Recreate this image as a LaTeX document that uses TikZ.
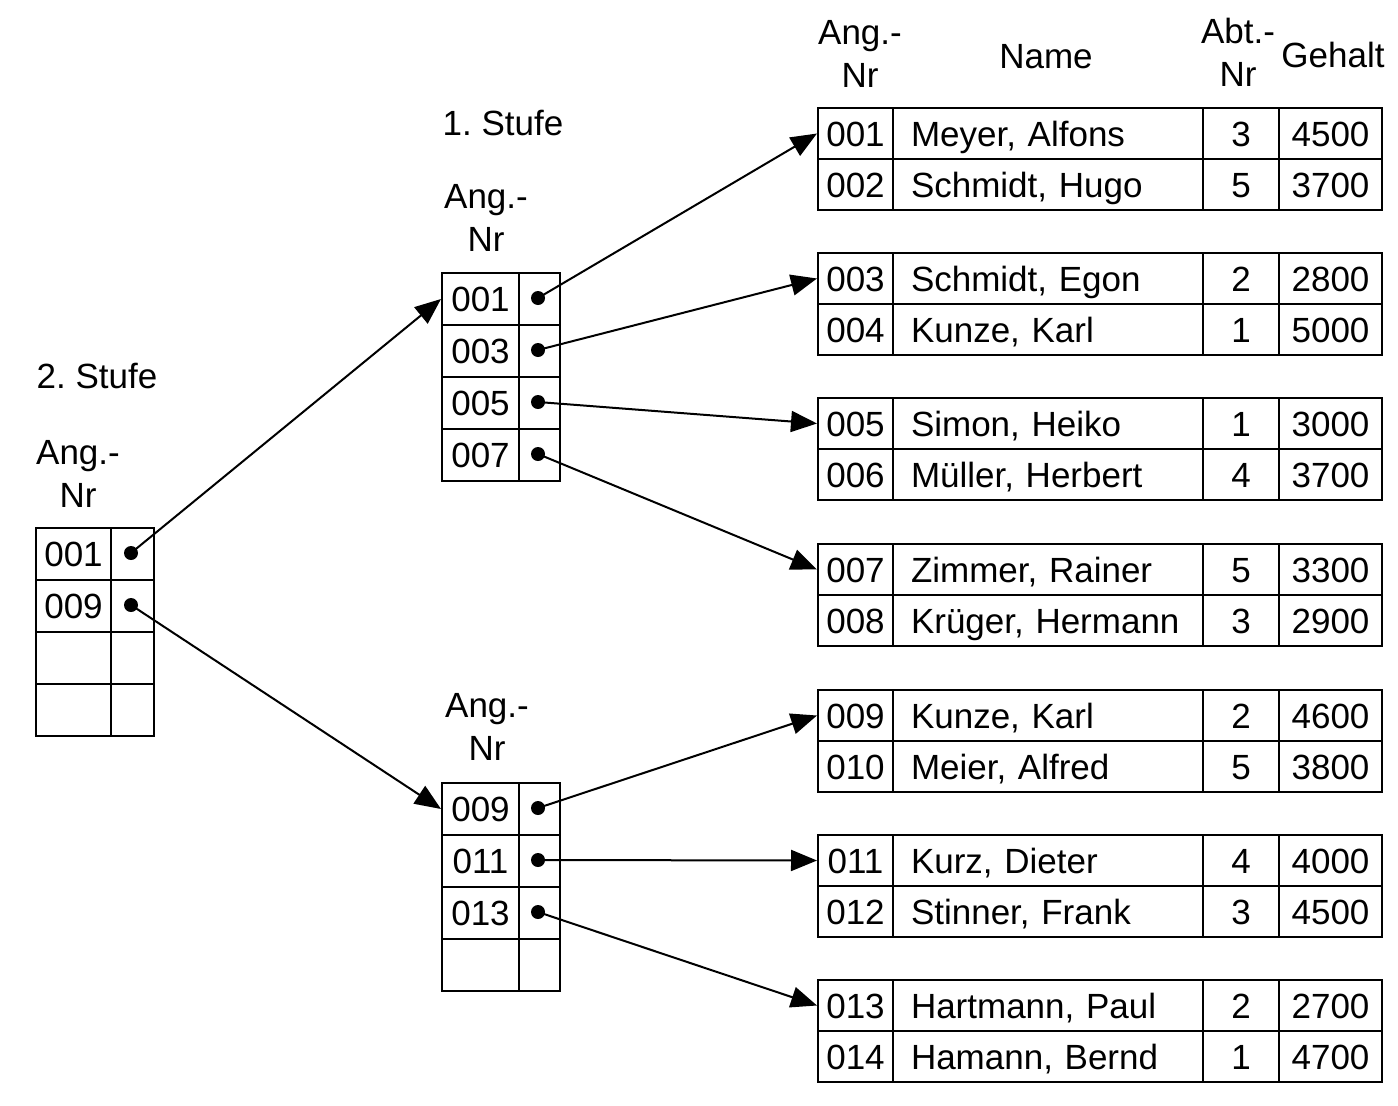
\documentclass[tikz,border=0pt]{standalone}
\usepackage{fontspec}
\setmainfont{Liberation Sans}
\usetikzlibrary{arrows.meta}
\frenchspacing
\tikzset{
  cell/.style={draw, line width=2pt, inner sep=0pt, anchor=north west, minimum height=51pt, text height=25pt, text depth=0pt},
  icell/.style={draw, line width=2pt, inner sep=0pt, anchor=north west, minimum height=52pt, text height=25pt, text depth=0pt},
  lbl/.style={inner sep=0pt, align=center},
  ptr/.style={circle, fill=black, inner sep=0pt, minimum size=14pt},
  link/.style={line width=2pt, -{Triangle[length=26pt,width=21pt]}}
}
\newcommand\drow[6]{%
  \node[cell, minimum width=75pt] (#1id) at (817,#2) {#3};
  \node[cell, minimum width=310pt, text width=274pt, align=left] (#1nm) at (892,#2) {#4};
  \node[cell, minimum width=76pt] (#1ab) at (1202,#2) {#5};
  \node[cell, minimum width=103pt] (#1ge) at (1278,#2) {#6};
}
\begin{document}
\begin{tikzpicture}[x=1pt,y=-1pt,font=\fontsize{35}{43}\selectfont]
\useasboundingbox[fill=white] (0,0) rectangle (1398,1106);

% headers
\node[lbl] (hang) at (860,54) {Ang.-\\Nr};
\node[lbl] (hname) at (1046,57) {Name};
\node[lbl] (habt) at (1238,52) {Abt.-\\Nr};
\node[lbl] (hgeh) at (1333,55) {Gehalt};

\node[lbl] (st1) at (503,123) {1. Stufe};
\node[lbl] (ang1) at (486,218) {Ang.-\\Nr};
\node[lbl] (ang1b) at (487,727) {Ang.-\\Nr};
\node[lbl] (st2) at (97,376) {2. Stufe};
\node[lbl] (ang2) at (78,474) {Ang.-\\Nr};

% data tables
\drow{ta}{107}{001}{Meyer, Alfons}{3}{4500}
\drow{tb}{158}{002}{Schmidt, Hugo}{5}{3700}
\drow{tc}{252}{003}{Schmidt, Egon}{2}{2800}
\drow{td}{303}{004}{Kunze, Karl}{1}{5000}
\drow{te}{397}{005}{Simon, Heiko}{1}{3000}
\drow{tf}{448}{006}{Müller, Herbert}{4}{3700}
\drow{tg}{543}{007}{Zimmer, Rainer}{5}{3300}
\drow{th}{594}{008}{Krüger, Hermann}{3}{2900}
\drow{ti}{689}{009}{Kunze, Karl}{2}{4600}
\drow{tj}{740}{010}{Meier, Alfred}{5}{3800}
\drow{tk}{834}{011}{Kurz, Dieter}{4}{4000}
\drow{tl}{885}{012}{Stinner, Frank}{3}{4500}
\drow{tm}{979}{013}{Hartmann, Paul}{2}{2700}
\drow{tn}{1030}{014}{Hamann, Bernd}{1}{4700}

% level 2 index (left)
\node[icell, minimum width=75pt] (la) at (35,527) {001};
\node[icell, minimum width=43pt] (lap) at (110,527) {};
\node[icell, minimum width=75pt] (lb) at (35,579) {009};
\node[icell, minimum width=43pt] (lbp) at (110,579) {};
\node[icell, minimum width=75pt] (lc) at (35,631) {};
\node[icell, minimum width=43pt] (lcp) at (110,631) {};
\node[icell, minimum width=75pt] (ld) at (35,683) {};
\node[icell, minimum width=43pt] (ldp) at (110,683) {};
\node[ptr] (dla) at (131,553) {};
\node[ptr] (dlb) at (131,605) {};

% level 1 index, upper
\node[icell, minimum width=77pt] (ua) at (441,272) {001};
\node[icell, minimum width=41pt] (uap) at (518,272) {};
\node[icell, minimum width=77pt] (ub) at (441,324) {003};
\node[icell, minimum width=41pt] (ubp) at (518,324) {};
\node[icell, minimum width=77pt] (uc) at (441,376) {005};
\node[icell, minimum width=41pt] (ucp) at (518,376) {};
\node[icell, minimum width=77pt] (ud) at (441,428) {007};
\node[icell, minimum width=41pt] (udp) at (518,428) {};
\node[ptr] (dua) at (538,298) {};
\node[ptr] (dub) at (538,350) {};
\node[ptr] (duc) at (538,402) {};
\node[ptr] (dud) at (538,454) {};

% level 1 index, lower
\node[icell, minimum width=77pt] (wa) at (441,782) {009};
\node[icell, minimum width=41pt] (wap) at (518,782) {};
\node[icell, minimum width=77pt] (wb) at (441,834) {011};
\node[icell, minimum width=41pt] (wbp) at (518,834) {};
\node[icell, minimum width=77pt] (wc) at (441,886) {013};
\node[icell, minimum width=41pt] (wcp) at (518,886) {};
\node[icell, minimum width=77pt] (wd) at (441,938) {};
\node[icell, minimum width=41pt] (wdp) at (518,938) {};
\node[ptr] (dwa) at (538,808) {};
\node[ptr] (dwb) at (538,860) {};
\node[ptr] (dwc) at (538,912) {};

% connectors
\draw[link] (dla.center) -- (ua.west);
\draw[link] (dlb.center) -- (wa.west);
\draw[link] (dua.center) -- (taid.west);
\draw[link] (dub.center) -- (tcid.west);
\draw[link] (duc.center) -- (teid.west);
\draw[link] (dud.center) -- (tgid.west);
\draw[link] (dwa.center) -- (tiid.west);
\draw[link] (dwb.center) -- (tkid.west);
\draw[link] (dwc.center) -- (tmid.west);
\end{tikzpicture}
\end{document}
